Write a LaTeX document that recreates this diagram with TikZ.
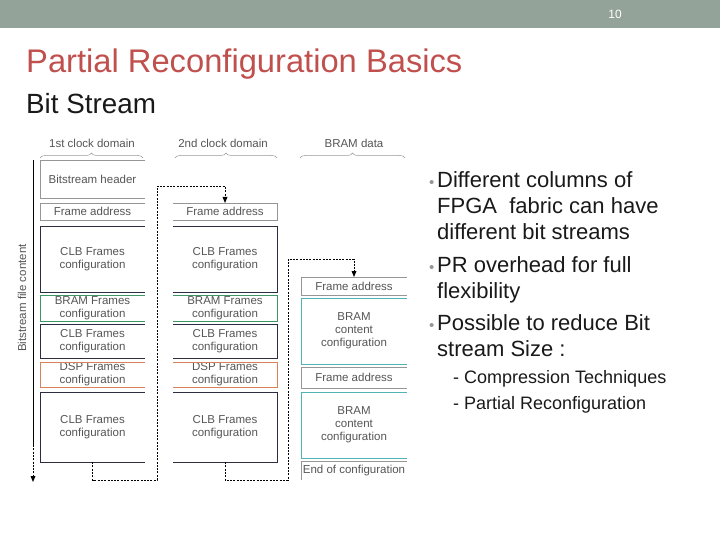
\documentclass[tikz,border=0pt]{standalone}
\usepackage{fontspec}
\setmainfont{Liberation Sans}
\usetikzlibrary{decorations.pathreplacing,arrows.meta}
\definecolor{barc}{RGB}{148,163,154}
\definecolor{titlec}{RGB}{192,80,77}
\definecolor{boxtxt}{RGB}{85,85,85}
\definecolor{grayb}{RGB}{150,150,150}
\definecolor{darkb}{RGB}{45,45,65}
\definecolor{greenb}{RGB}{60,150,100}
\definecolor{orangeb}{RGB}{215,130,90}
\definecolor{tealb}{RGB}{80,180,180}
\definecolor{bulc}{RGB}{150,150,150}
\definecolor{bodyc}{RGB}{25,25,25}
\newcommand\openR[2]{\draw[#2] (#1.north east) -- (#1.north west) -- (#1.south west) -- (#1.south east);}
\newcommand\openL[2]{\draw[#2] (#1.north west) -- (#1.north east) -- (#1.south east) -- (#1.south west);}
\begin{document}
\begin{tikzpicture}[x=1pt,y=-1pt,
  cell/.style={inner sep=0pt, outer sep=0pt, align=center, font=\fontsize{11.5}{13}\selectfont, text=boxtxt, minimum width=#1},
  cell/.default=105pt,
  bord/.style={line width=0.8pt},
  conn/.style={line width=0.6pt, dash pattern=on 2pt off 1.3pt},
  tip/.style={-{Triangle[length=6pt,width=5pt,line width=0pt]}},
  brc/.style={draw=grayb, line width=0.5pt, decorate, decoration={brace, amplitude=5pt}},
  hdr/.style={font=\fontsize{11.5}{13}\selectfont, text=boxtxt},
  bul/.style={anchor=base west, inner sep=0pt, font=\fontsize{22}{26}\selectfont, text=bodyc},
  dot/.style={anchor=base east, inner sep=0pt, text=bulc, font=\fontsize{15}{18}\selectfont},
  sub/.style={anchor=base west, inner sep=0pt, font=\fontsize{18}{20}\selectfont, text=bodyc}
]
\useasboundingbox (0,0) rectangle (720,540);
% top bar
\fill[barc] (0,0) rectangle (720,28);
\node[anchor=base, text=white, font=\fontsize{12}{14}\selectfont, inner sep=0pt] (pg) at (615,19) {10};
% titles
\node[anchor=base west, inner sep=0pt, text=titlec, font=\fontsize{32.7}{36}\selectfont] (title) at (26,73) {Partial Reconfiguration Basics};
\node[anchor=base west, inner sep=0pt, text=bodyc, font=\fontsize{27.8}{30}\selectfont] (sub) at (26,114) {Bit Stream};

% headers and braces
\node[hdr] (h1) at (92,143) {1st clock domain};
\node[hdr] (h2) at (223,143) {2nd clock domain};
\node[hdr] (h3) at (354,143) {BRAM data};
\draw[brc] (40,158) -- (143,158);
\draw[brc] (175,158) -- (277,158);
\draw[brc] (300,158) -- (405,158);

% axis
\node[rotate=90, font=\fontsize{11.5}{13}\selectfont, text=boxtxt] (axl) at (22,298) {Bitstream file content};
\coordinate (ax0) at (33,160);
\coordinate (ax1) at (33,445);
\coordinate (ax2) at (33,482);
\draw[line width=0.8pt] (ax0) -- (ax1);
\draw[conn, tip] (ax1) -- (ax2);

% column 1
\node[cell, minimum height=38pt] (bh) at (92.5,179) {Bitstream header};
\node[cell, minimum height=17pt] (fa1) at (92.5,211.5) {Frame address};
\node[cell, minimum height=66pt] (c1a) at (92.5,259) {CLB Frames\\configuration};
\node[cell, minimum height=26pt] (b1) at (92.5,308.5) {BRAM Frames\\configuration};
\node[cell, minimum height=34pt] (c1b) at (92.5,341) {CLB Frames\\configuration};
\node[cell, minimum height=25pt] (d1) at (92.5,374.5) {DSP Frames\\configuration};
\node[cell, minimum height=70pt] (c1c) at (92.5,427) {CLB Frames\\configuration};
\openR{bh}{bord, grayb}
\openR{fa1}{bord, grayb}
\openR{c1a}{bord, darkb}
\openR{b1}{bord, greenb}
\openR{c1b}{bord, darkb}
\openR{d1}{bord, orangeb}
\openR{c1c}{bord, darkb}

% column 2
\node[cell=104pt, minimum height=17pt] (fa2) at (225,211.5) {Frame address};
\node[cell=104pt, minimum height=66pt] (c2a) at (225,259) {CLB Frames\\configuration};
\node[cell=104pt, minimum height=26pt] (b2) at (225,308.5) {BRAM Frames\\configuration};
\node[cell=104pt, minimum height=34pt] (c2b) at (225,341) {CLB Frames\\configuration};
\node[cell=104pt, minimum height=25pt] (d2) at (225,374.5) {DSP Frames\\configuration};
\node[cell=104pt, minimum height=70pt] (c2c) at (225,427) {CLB Frames\\configuration};
\openL{fa2}{bord, grayb}
\openL{c2a}{bord, darkb}
\openL{b2}{bord, greenb}
\openL{c2b}{bord, darkb}
\openL{d2}{bord, orangeb}
\openL{c2c}{bord, darkb}

% column 3
\node[cell=106pt, minimum height=18pt] (fa3) at (354,286) {Frame address};
\node[cell=106pt, minimum height=66pt] (bc1) at (354,331) {BRAM\\content\\configuration};
\node[cell=106pt, minimum height=21pt] (fa4) at (354,377.5) {Frame address};
\node[cell=106pt, minimum height=66pt] (bc2) at (354,425) {BRAM\\content\\configuration};
\node[cell=106pt, minimum height=19pt] (eoc) at (354,470.5) {End of configuration};
\openR{fa3}{bord, grayb}
\openR{bc1}{bord, tealb}
\openR{fa4}{bord, grayb}
\openR{bc2}{bord, tealb}
\draw[bord, grayb] (eoc.north east) -- (eoc.north west) -- (eoc.south west);

% connectors
\coordinate (p1) at (157,480);
\coordinate (p2) at (157,186);
\draw[conn, tip] (c1c.south) |- (p1) -- (p2) -| (fa2.north);
\coordinate (q1) at (288,480);
\coordinate (q2) at (288,259);
\draw[conn, tip] (c2c.south) |- (q1) -- (q2) -| (fa3.north);

% bullets
\node[bul] (t1a) at (437,188) {Different columns of};
\node[bul] (t1b) at (437,214) {FPGA\ \ fabric can have};
\node[bul] (t1c) at (437,240) {different bit streams};
\node[bul] (t2a) at (437,272) {PR overhead for full};
\node[bul] (t2b) at (437,298) {flexibility};
\node[bul] (t3a) at (437,330) {Possible to reduce Bit};
\node[bul] (t3b) at (437,356) {stream Size :};
\node[dot] (u1) at (t1a.base west) {•\,};
\node[dot] (u2) at (t2a.base west) {•\,};
\node[dot] (u3) at (t3a.base west) {•\,};
\node[sub] (s1) at (453,383) {- Compression Techniques};
\node[sub] (s2) at (453,409) {- Partial Reconfiguration};
\end{tikzpicture}
\end{document}
